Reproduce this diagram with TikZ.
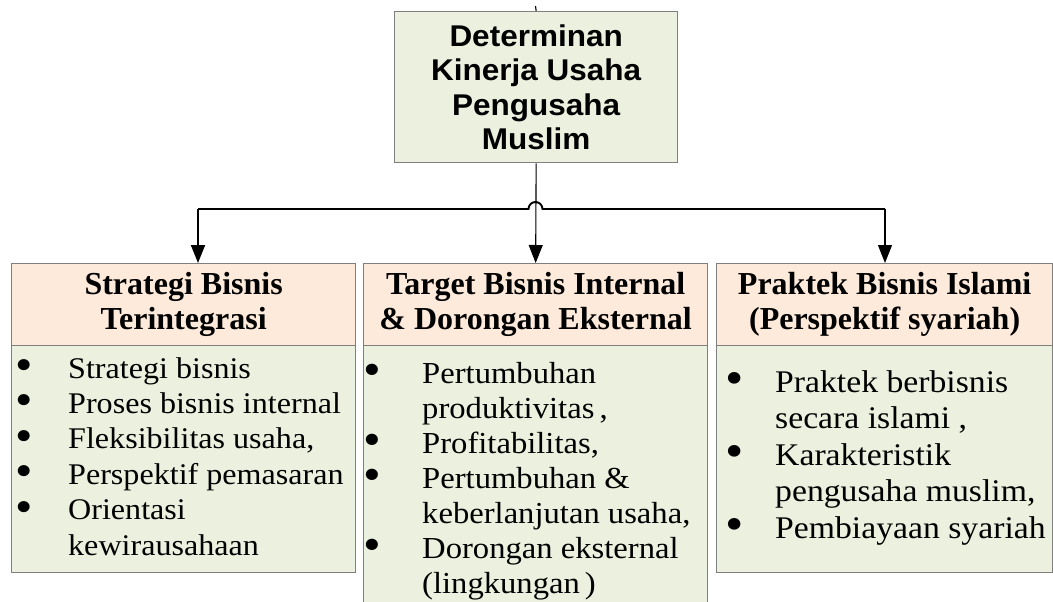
\documentclass[tikz,border=0pt]{standalone}
\usepackage{fontspec}
\setmainfont{Liberation Serif}
\newfontfamily\bodyfnt{Liberation Serif}[FakeStretch=1.07]
\newfontfamily\topfnt{Liberation Sans}[FakeStretch=1.05]
\usetikzlibrary{arrows.meta,calc}
\definecolor{boxgreen}{HTML}{EBF1DE}
\definecolor{boxpeach}{HTML}{FDEADA}
\definecolor{boxline}{HTML}{7F7F7F}
\newcommand\bl[1]{\makebox[#1][l]{\smash{\raisebox{-2.5pt}{\scalebox{1.55}{\textbullet}}}}}
\newcommand\nb[1]{\makebox[#1]{}}
\tikzset{
  topbox/.style={draw=boxline, line width=1.3pt, fill=boxgreen, inner sep=0pt, align=center,
    font=\topfnt\bfseries\fontsize{30}{34.5}\selectfont},
  hdrbox/.style={draw=boxline, line width=1.3pt, fill=boxpeach, inner sep=0pt, align=center,
    font=\bfseries\fontsize{32}{35}\selectfont},
  bodybox/.style={draw=boxline, line width=1.3pt, fill=boxgreen, inner sep=0pt},
  bodytxt/.style={inner sep=0pt, align=left, anchor=base west},
  conn/.style={line width=1.1pt, black},
  busline/.style={line width=1.9pt, black},
  arr/.style={-{Triangle[width=14pt,length=18pt]}}
}
\begin{document}
\begin{tikzpicture}[x=1pt,y=-1pt]
\useasboundingbox (0,0) rectangle (1053,602);
% top box
\node[topbox, minimum width=283pt, minimum height=151pt, anchor=north west] (top) at (394,11)
  {Determinan\\Kinerja Usaha\\Pengusaha\\Muslim};
% left column
\node[bodybox, minimum width=344pt, minimum height=227pt, anchor=north west] (lb) at (11,345) {};
\node[hdrbox, minimum width=344pt, minimum height=82pt, anchor=north west] (lh) at (11,263)
  {Strategi Bisnis\\Terintegrasi};
\node[bodytxt, font=\bodyfnt\fontsize{30}{35.4}\selectfont] (lt) at (15,555)
  {\bl{53pt}Strategi bisnis\\
   \bl{53pt}Proses bisnis internal\\
   \bl{53pt}Fleksibilitas usaha,\\
   \bl{53pt}Perspektif pemasaran\\
   \bl{53pt}Orientasi\\
   \nb{53pt}kewirausahaan};
% middle column
\node[bodybox, minimum width=344pt, minimum height=262pt, anchor=north west] (mb) at (363,345) {};
\node[hdrbox, minimum width=344pt, minimum height=82pt, anchor=north west] (mh) at (363,263)
  {Target Bisnis Internal\\\& Dorongan Eksternal};
\node[bodytxt, font=\bodyfnt\fontsize{30.5}{35}\selectfont] (mt) at (363,593)
  {\bl{59pt}Pertumbuhan\\
   \nb{59pt}produktivitas\,,\\
   \bl{59pt}Profitabilitas,\\
   \bl{59pt}Pertumbuhan \&\\
   \nb{59pt}keberlanjutan usaha,\\
   \bl{59pt}Dorongan eksternal\\
   \nb{59pt}(lingkungan\,)};
% right column
\node[bodybox, minimum width=336pt, minimum height=227pt, anchor=north west] (rb) at (716,345) {};
\node[hdrbox, minimum width=336pt, minimum height=82pt, anchor=north west] (rh) at (716,263)
  {Praktek Bisnis Islami\\(Perspektif syariah)};
\node[bodytxt, font=\bodyfnt\fontsize{31.5}{36.5}\selectfont] (rt) at (725,538)
  {\bl{50pt}Praktek berbisnis\\
   \nb{50pt}secara islami ,\\
   \bl{50pt}Karakteristik\\
   \nb{50pt}pengusaha muslim,\\
   \bl{50pt}Pembiayaan syariah};
% connectors
\coordinate (above) at (535.5,6);
\coordinate (busL) at (198,209);
\coordinate (busR) at (885,209);
\coordinate (hopL) at (528.5,209);
\draw[conn] (above) -- (top.north);
\draw[conn, arr] (top.south) -- (mh.north);
\draw[busline] (busL) -- (hopL) arc[start angle=180, end angle=0, radius=7pt] -- (busR);
\draw[busline, arr] (busL) -- (busL |- lh.north);
\draw[conn, arr] (busR) -- (busR |- rh.north);
\end{tikzpicture}
\end{document}
